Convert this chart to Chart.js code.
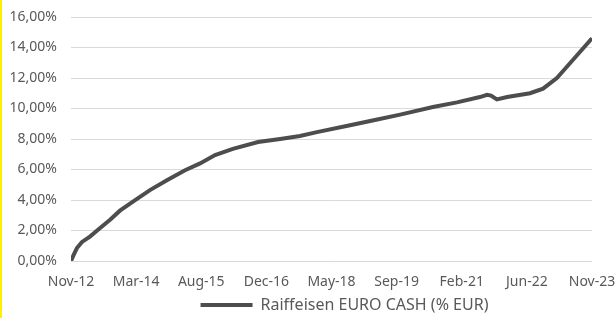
<!DOCTYPE html>
<html>
<head>
<meta charset="utf-8">
<script src="https://cdn.jsdelivr.net/npm/chart.js@4"></script>
<style>
  html, body { margin: 0; padding: 0; background: #fff; }
  #wrap { position: relative; width: 615px; height: 318px; }
  #edge { position: absolute; left: 0; top: 0; width: 2px; height: 318px; background: #ffef00; }
</style>
</head>
<body>
<div id="wrap">
  <canvas id="cashChart" width="615" height="318"></canvas>
  <div id="edge"></div>
</div>
<script>
// months since Nov-12 and cumulative performance in %
const months = [0, 0.5, 1.5, 2.8, 4.8, 7.3, 9.9, 12.4, 15.7, 20, 24.3, 28.9, 32.7, 36.5, 41, 47.4, 53, 58, 62.3, 70.7, 77, 83.4, 91.7, 97.8, 103.6, 105.4, 106.4, 107.9, 110.5, 116.3, 119.6, 123.1, 127.2, 132];
const cashReturn = [0, 0.3, 0.85, 1.25, 1.6, 2.15, 2.7, 3.3, 3.9, 4.65, 5.3, 5.95, 6.4, 6.95, 7.35, 7.8, 8.0, 8.2, 8.45, 8.9, 9.25, 9.6, 10.1, 10.4, 10.75, 10.9, 10.85, 10.6, 10.75, 11.0, 11.3, 12.0, 13.2, 14.6];
const tickLabels = ['Nov-12', 'Mar-14', 'Aug-15', 'Dec-16', 'May-18', 'Sep-19', 'Feb-21', 'Jun-22', 'Nov-23'];
const seriesName = 'Raiffeisen EURO CASH (% EUR)';

const textColor = '#595959';
const font = { family: 'Noto Sans', size: 14 };

// nudge the legend a bit to the right and down, like the original
const legendNudge = {
    id: 'legendNudge',
    afterLayout(chart) {
        const lg = chart.legend;
        lg.left += 37; lg.right += 37;
        lg.top += 5; lg.bottom += 5;
    }
};

const ctx = document.getElementById('cashChart');
new Chart(ctx, {
    type: 'line',
    data: {
        datasets: [{
            label: seriesName,
            data: months.map((m, i) => ({ x: m, y: cashReturn[i] })),
            borderColor: '#4d4d4d',
            backgroundColor: '#4d4d4d',
            borderWidth: 4,
            pointRadius: 0,
            tension: 0
        }]
    },
    options: {
        responsive: false,
        animation: false,
        layout: { padding: { top: 17, right: 0, left: 0, bottom: 0 } },
        plugins: {
            legend: {
                position: 'bottom',
                labels: {
                    color: textColor,
                    font: { family: 'Noto Sans', size: 16, lineHeight: 1 },
                    usePointStyle: true,
                    pointStyle: 'line',
                    pointStyleWidth: 52,
                    padding: 0
                }
            },
            tooltip: { enabled: false }
        },
        scales: {
            x: {
                type: 'linear',
                min: 0,
                max: 132,
                afterBuildTicks: scale => {
                    scale.ticks = tickLabels.map((t, i) => ({ value: i * 16.5 }));
                },
                afterFit: scale => {
                    scale.height = 31;
                    scale.paddingLeft = 0;
                    scale.paddingRight = 0;
                },
                ticks: {
                    color: textColor,
                    font: font,
                    padding: 13,
                    maxRotation: 0,
                    autoSkip: false,
                    callback: (v, i) => tickLabels[i]
                },
                grid: { display: false, drawTicks: false },
                border: { display: false }
            },
            y: {
                min: 0,
                max: 16,
                afterFit: scale => {
                    scale.width = 71;
                    scale.paddingTop = 0;
                    scale.paddingBottom = 0;
                },
                ticks: {
                    stepSize: 2,
                    color: textColor,
                    font: font,
                    padding: 14,
                    callback: v => v.toFixed(2).replace('.', ',') + '%'
                },
                grid: { color: '#d9d9d9', drawTicks: false },
                border: { display: false }
            },
            // empty spacer on the right
            yRight: {
                position: 'right',
                min: 0,
                max: 16,
                afterFit: scale => { scale.width = 23; },
                ticks: { display: false },
                grid: { display: false, drawTicks: false },
                border: { display: false }
            }
        }
    },
    plugins: [legendNudge]
});
</script>
</body>
</html>
